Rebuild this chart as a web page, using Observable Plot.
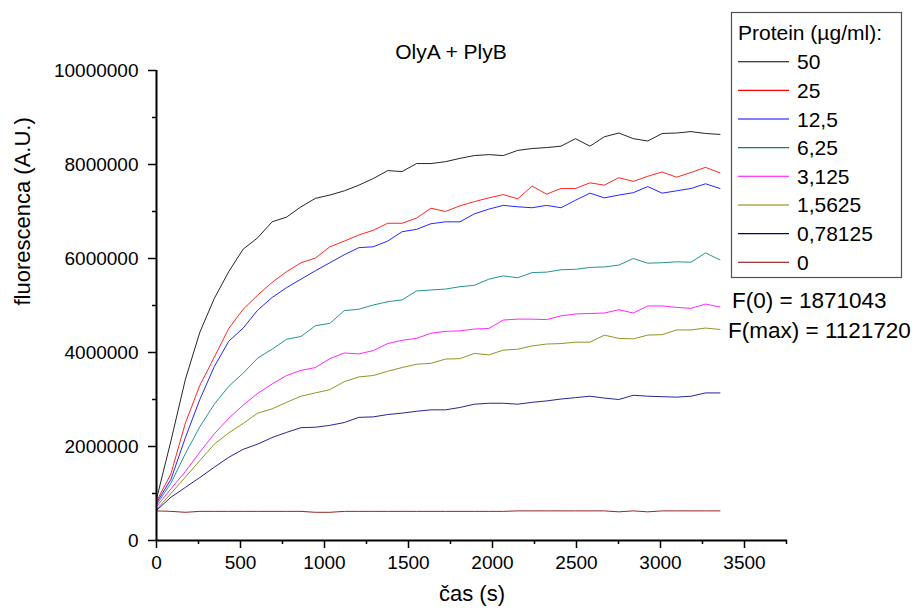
<!DOCTYPE html>
<html>
<head>
<meta charset="utf-8">
<script src="https://cdn.jsdelivr.net/npm/d3@7"></script>
<script src="https://cdn.jsdelivr.net/npm/@observablehq/plot@0.6"></script>
<style>
  html, body { margin: 0; padding: 0; background: #fff; }
  #wrap { position: relative; width: 920px; height: 612px; overflow: hidden; font-family: "Liberation Sans", Arial, sans-serif; }
  #wrap > svg { position: absolute; left: 0; top: 0; }
</style>
</head>
<body>
<div id="wrap"></div>
<script>
// ---- data ----
const titleText = "OlyA + PlyB";
const xLabelText = "čas (s)";
const yLabelText = "fluorescenca (A.U.)";
const legendTitle = "Protein (\u00b5g/ml):";
const fZeroText = "F(0) = 1871043";
const fMaxText = "F(max) = 1121720";

const times = [0, 86, 172, 258, 344, 430, 516, 602, 688, 774, 860, 946, 1032, 1118, 1204, 1290, 1376, 1462, 1548, 1634,
  1720, 1806, 1892, 1978, 2064, 2150, 2236, 2322, 2408, 2494, 2580, 2666, 2752, 2838, 2924, 3010, 3096, 3182, 3268, 3354];

const c50 = [0.88e6, 2.12e6, 3.43e6, 4.43e6, 5.15e6, 5.72e6, 6.20e6, 6.44e6, 6.78e6, 6.88e6, 7.10e6, 7.28e6, 7.35e6, 7.44e6, 7.56e6, 7.70e6, 7.87e6, 7.85e6, 8.02e6, 8.02e6,
  8.06e6, 8.13e6, 8.19e6, 8.21e6, 8.19e6, 8.30e6, 8.34e6, 8.36e6, 8.39e6, 8.55e6, 8.39e6, 8.59e6, 8.67e6, 8.55e6, 8.50e6, 8.66e6, 8.67e6, 8.70e6, 8.66e6, 8.64e6];
const c25 = [0.83e6, 1.42e6, 2.50e6, 3.30e6, 3.90e6, 4.51e6, 4.92e6, 5.22e6, 5.49e6, 5.72e6, 5.91e6, 6.01e6, 6.25e6, 6.37e6, 6.50e6, 6.60e6, 6.75e6, 6.75e6, 6.86e6, 7.07e6,
  7.00e6, 7.12e6, 7.21e6, 7.29e6, 7.36e6, 7.27e6, 7.54e6, 7.37e6, 7.49e6, 7.49e6, 7.61e6, 7.56e6, 7.72e6, 7.64e6, 7.75e6, 7.84e6, 7.73e6, 7.83e6, 7.94e6, 7.82e6];
const c12_5 = [0.80e6, 1.30e6, 2.19e6, 3.00e6, 3.70e6, 4.24e6, 4.52e6, 4.90e6, 5.17e6, 5.38e6, 5.56e6, 5.74e6, 5.91e6, 6.08e6, 6.23e6, 6.25e6, 6.37e6, 6.57e6, 6.62e6, 6.74e6,
  6.78e6, 6.78e6, 6.95e6, 7.05e6, 7.13e6, 7.10e6, 7.08e6, 7.13e6, 7.08e6, 7.24e6, 7.39e6, 7.29e6, 7.35e6, 7.40e6, 7.53e6, 7.39e6, 7.44e6, 7.49e6, 7.59e6, 7.49e6];
const c6_25 = [0.76e6, 1.22e6, 1.85e6, 2.42e6, 2.90e6, 3.28e6, 3.56e6, 3.88e6, 4.07e6, 4.28e6, 4.34e6, 4.57e6, 4.62e6, 4.89e6, 4.92e6, 5.01e6, 5.08e6, 5.12e6, 5.31e6, 5.33e6,
  5.35e6, 5.40e6, 5.43e6, 5.56e6, 5.63e6, 5.59e6, 5.70e6, 5.71e6, 5.76e6, 5.77e6, 5.81e6, 5.82e6, 5.86e6, 6.00e6, 5.90e6, 5.91e6, 5.93e6, 5.92e6, 6.12e6, 5.97e6];
const c3_125 = [0.72e6, 1.10e6, 1.47e6, 1.88e6, 2.27e6, 2.60e6, 2.88e6, 3.13e6, 3.33e6, 3.51e6, 3.62e6, 3.68e6, 3.87e6, 3.99e6, 3.97e6, 4.04e6, 4.19e6, 4.26e6, 4.30e6, 4.41e6,
  4.45e6, 4.46e6, 4.50e6, 4.51e6, 4.69e6, 4.71e6, 4.71e6, 4.70e6, 4.78e6, 4.82e6, 4.83e6, 4.84e6, 4.91e6, 4.84e6, 4.99e6, 4.99e6, 4.96e6, 4.94e6, 5.03e6, 4.97e6];
const c1_5625 = [0.66e6, 1.00e6, 1.35e6, 1.70e6, 2.05e6, 2.29e6, 2.49e6, 2.71e6, 2.80e6, 2.94e6, 3.07e6, 3.14e6, 3.21e6, 3.38e6, 3.48e6, 3.51e6, 3.60e6, 3.68e6, 3.75e6, 3.77e6,
  3.86e6, 3.87e6, 3.98e6, 3.95e6, 4.05e6, 4.07e6, 4.14e6, 4.18e6, 4.19e6, 4.22e6, 4.22e6, 4.37e6, 4.30e6, 4.29e6, 4.37e6, 4.38e6, 4.48e6, 4.48e6, 4.52e6, 4.49e6];
const c0_78125 = [0.64e6, 0.92e6, 1.13e6, 1.34e6, 1.56e6, 1.77e6, 1.94e6, 2.05e6, 2.19e6, 2.30e6, 2.40e6, 2.41e6, 2.45e6, 2.51e6, 2.62e6, 2.63e6, 2.68e6, 2.71e6, 2.75e6, 2.78e6,
  2.78e6, 2.83e6, 2.90e6, 2.92e6, 2.92e6, 2.90e6, 2.94e6, 2.97e6, 3.01e6, 3.04e6, 3.07e6, 3.03e6, 3.00e6, 3.09e6, 3.07e6, 3.06e6, 3.05e6, 3.07e6, 3.14e6, 3.14e6];
const c0 = [0.63e6, 0.62e6, 0.60e6, 0.62e6, 0.62e6, 0.62e6, 0.62e6, 0.62e6, 0.62e6, 0.62e6, 0.62e6, 0.60e6, 0.60e6, 0.62e6, 0.62e6, 0.62e6, 0.62e6, 0.62e6, 0.62e6, 0.62e6,
  0.62e6, 0.62e6, 0.62e6, 0.62e6, 0.62e6, 0.63e6, 0.63e6, 0.63e6, 0.63e6, 0.63e6, 0.63e6, 0.63e6, 0.61e6, 0.63e6, 0.61e6, 0.63e6, 0.63e6, 0.63e6, 0.63e6, 0.63e6];

const seriesLabels = ["50", "25", "12,5", "6,25", "3,125", "1,5625", "0,78125", "0"];
const seriesValues = [c50, c25, c12_5, c6_25, c3_125, c1_5625, c0_78125, c0];
const seriesColors = ["#000000", "#ff0000", "#0000ff", "#008080", "#ff00ff", "#808000", "#000080", "#800000"];

const xMajorTicks = [0, 500, 1000, 1500, 2000, 2500, 3000, 3500];
const xMinorTicks = [250, 750, 1250, 1750, 2250, 2750, 3250, 3750];
const yMajorTicks = [0, 2000000, 4000000, 6000000, 8000000, 10000000];
const yMinorTicks = [1000000, 3000000, 5000000, 7000000, 9000000];

// ---- build table ----
const rows = [];
seriesLabels.forEach((lab, i) => {
  seriesValues[i].forEach((v, j) => rows.push({series: lab, t: times[j], v}));
});

const font = "Liberation Sans, Arial, sans-serif";
const lineMarks = seriesLabels.slice().reverse().map(lab =>
  Plot.lineY(rows.filter(r => r.series === lab), {
    x: "t", y: "v",
    stroke: seriesColors[seriesLabels.indexOf(lab)],
    strokeWidth: 1,
    strokeOpacity: 0.85
  })
);

const chart = Plot.plot({
  width: 920,
  height: 612,
  marginLeft: 156,
  marginRight: 133,
  marginTop: 70,
  marginBottom: 72,
  style: {fontFamily: font, background: "transparent", color: "black", overflow: "visible"},
  x: {domain: [0, 3756]},
  y: {domain: [0, 10000000]},
  marks: [
    Plot.axisX({ticks: xMajorTicks, tickSize: 8, tickPadding: 7, fontSize: 19, tickFormat: d => String(d), label: null, strokeWidth: 1.5}),
    Plot.axisX({ticks: xMinorTicks, tickSize: 4, tickFormat: () => "", label: null, strokeWidth: 1.5}),
    Plot.axisY({ticks: yMajorTicks, tickSize: 8, tickPadding: 10, fontSize: 19, tickFormat: d => String(d), label: null, strokeWidth: 1.5}),
    Plot.axisY({ticks: yMinorTicks, tickSize: 4, tickFormat: () => "", label: null, strokeWidth: 1.5}),
    ...lineMarks,
    Plot.ruleX([0], {stroke: "black", strokeWidth: 2}),
    Plot.ruleY([0], {stroke: "black", strokeWidth: 2}),
    Plot.text([titleText], {text: d => d, frameAnchor: "top", dx: -21, dy: -26, fontSize: 21}),
    Plot.text([xLabelText], {text: d => d, frameAnchor: "bottom", dy: 60, fontSize: 22}),
    Plot.text([yLabelText], {text: d => d, frameAnchor: "left", dx: -134, rotate: -90, fontSize: 22})
  ]
});

const wrap = document.getElementById("wrap");
wrap.appendChild(chart);

// ---- legend overlay ----
const ov = d3.select(wrap).append("svg")
  .attr("width", 920).attr("height", 612)
  .style("font-family", font);

const lg = ov.append("g");
lg.append("rect")
  .attr("x", 731.5).attr("y", 12.5).attr("width", 170).attr("height", 265)
  .attr("fill", "white").attr("stroke", "#505050").attr("stroke-width", 1.2);
lg.append("text").attr("x", 738).attr("y", 40).attr("font-size", 21).text(legendTitle);
seriesLabels.forEach((lab, i) => {
  const yc = 61.7 + 28.65 * i;
  lg.append("line").attr("x1", 738).attr("x2", 789).attr("y1", yc).attr("y2", yc)
    .attr("stroke", seriesColors[i]).attr("stroke-width", 1.1);
  lg.append("text").attr("x", 797).attr("y", yc + 7.5).attr("font-size", 21).text(lab);
});
ov.append("text").attr("x", 732).attr("y", 308).attr("font-size", 22.5).text(fZeroText);
ov.append("text").attr("x", 728).attr("y", 338).attr("font-size", 22.5).text(fMaxText);
</script>
</body>
</html>
